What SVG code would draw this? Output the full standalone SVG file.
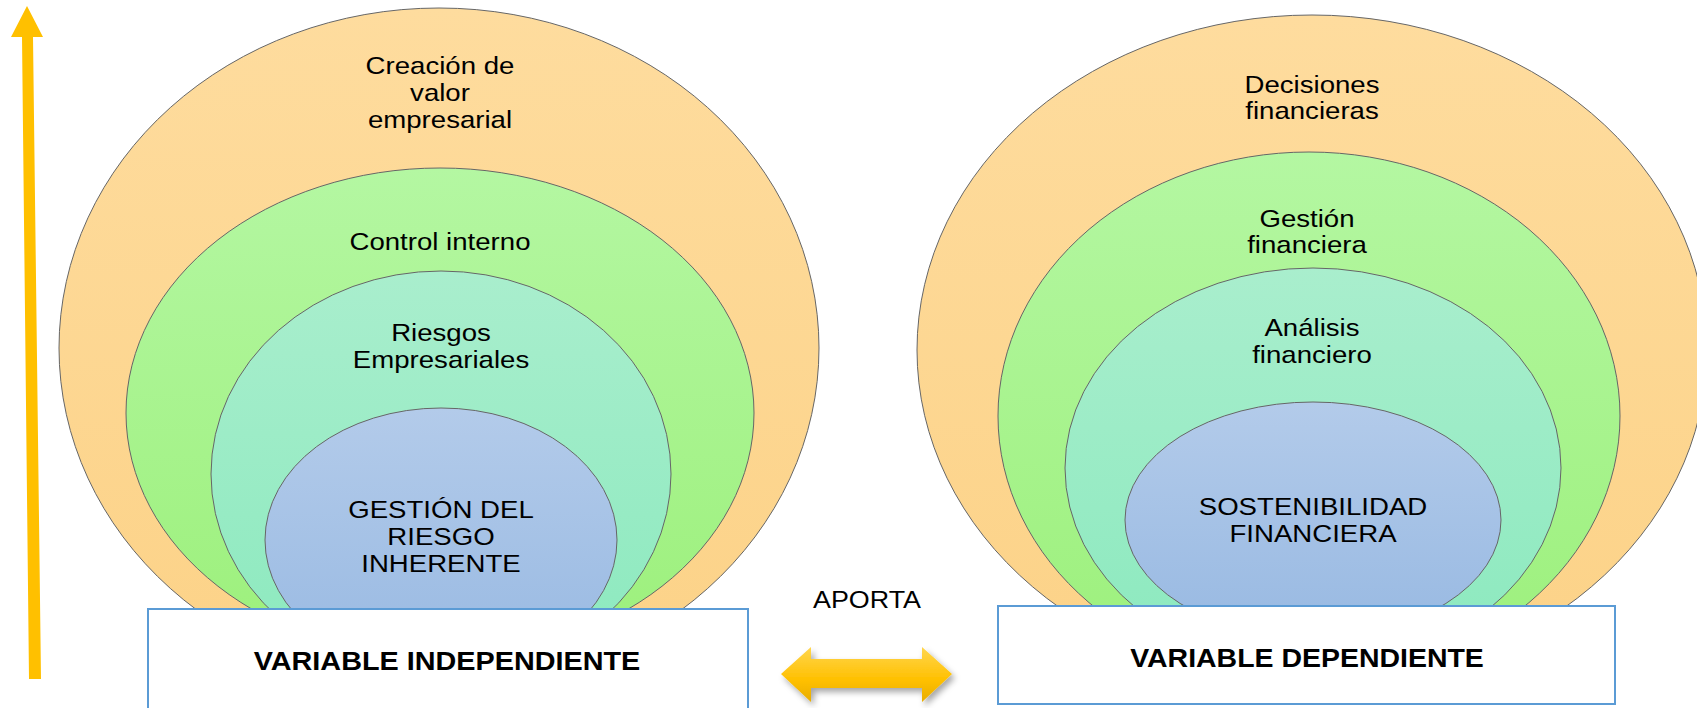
<svg xmlns="http://www.w3.org/2000/svg" width="1697" height="708" viewBox="0 0 1697 708">
<defs>
<linearGradient id="gOr" x1="0" y1="0" x2="0" y2="1"><stop offset="0" stop-color="#FEDC9E"/><stop offset="1" stop-color="#FCD287"/></linearGradient>
<linearGradient id="gGr" x1="0" y1="0" x2="0" y2="1"><stop offset="0" stop-color="#B4F7A2"/><stop offset="1" stop-color="#9CF07B"/></linearGradient>
<linearGradient id="gTe" x1="0" y1="0" x2="0" y2="1"><stop offset="0" stop-color="#A9EECD"/><stop offset="1" stop-color="#8BE9BE"/></linearGradient>
<linearGradient id="gBl" x1="0" y1="0" x2="0" y2="1"><stop offset="0" stop-color="#B3CBEA"/><stop offset="1" stop-color="#98B9E2"/></linearGradient>
<linearGradient id="gAr" x1="0" y1="0" x2="0" y2="1"><stop offset="0" stop-color="#FFD64F"/><stop offset="0.6" stop-color="#FFC000"/><stop offset="1" stop-color="#E8AD00"/></linearGradient>
<filter id="sh" x="-20%" y="-40%" width="140%" height="180%"><feDropShadow dx="3" dy="4" stdDeviation="3" flood-color="#000" flood-opacity="0.35"/></filter>
</defs>
<style>
.e{stroke:#666;stroke-width:1}
.or{fill:url(#gOr)}.gr{fill:url(#gGr)}.te{fill:url(#gTe)}.bl{fill:url(#gBl)}
.t{font-family:"Liberation Sans",Arial,sans-serif;font-size:24px;fill:#000;text-anchor:middle}
.b{font-family:"Liberation Sans",Arial,sans-serif;font-size:26px;font-weight:bold;fill:#000;text-anchor:middle}
.box{fill:#fff;stroke:#5B9BD5;stroke-width:2}
</style>
<rect width="1697" height="708" fill="#fff"/>
<g id="left-creacion-valor">
<ellipse class="e or" cx="439" cy="348" rx="380" ry="340"/>
<text class="t" transform="translate(440,74) scale(1.15,1)"><tspan x="0" y="0">Creación de</tspan><tspan x="0" y="27">valor</tspan><tspan x="0" y="54">empresarial</tspan></text>
</g>
<g id="left-control-interno">
<ellipse class="e gr" cx="440" cy="413" rx="314" ry="245"/>
<text class="t" transform="translate(440,250) scale(1.15,1)">Control interno</text>
</g>
<g id="left-riesgos">
<ellipse class="e te" cx="441" cy="474" rx="230" ry="203"/>
<text class="t" transform="translate(441,341) scale(1.15,1)"><tspan x="0" y="0">Riesgos</tspan><tspan x="0" y="27">Empresariales</tspan></text>
</g>
<g id="left-gestion-riesgo">
<ellipse class="e bl" cx="441" cy="540" rx="176" ry="132"/>
<text class="t" transform="translate(441,518) scale(1.15,1)"><tspan x="0" y="0">GESTIÓN DEL</tspan><tspan x="0" y="27">RIESGO</tspan><tspan x="0" y="54">INHERENTE</tspan></text>
</g>
<g id="left-box">
<rect class="box" x="148" y="609" width="600" height="110"/>
<text class="b" transform="translate(447,670) scale(1.108,1)">VARIABLE INDEPENDIENTE</text>
</g>
<g id="right-decisiones">
<ellipse class="e or" cx="1312" cy="350" rx="395" ry="335"/>
<text class="t" transform="translate(1312,93) scale(1.15,1)"><tspan x="0" y="0">Decisiones</tspan><tspan x="0" y="26">financieras</tspan></text>
</g>
<g id="right-gestion-financiera">
<ellipse class="e gr" cx="1309" cy="416" rx="311" ry="264"/>
<text class="t" transform="translate(1307,227) scale(1.15,1)"><tspan x="0" y="0">Gestión</tspan><tspan x="0" y="26">financiera</tspan></text>
</g>
<g id="right-analisis">
<ellipse class="e te" cx="1313" cy="468" rx="248" ry="200"/>
<text class="t" transform="translate(1312,336) scale(1.15,1)"><tspan x="0" y="0">Análisis</tspan><tspan x="0" y="27">financiero</tspan></text>
</g>
<g id="right-sostenibilidad">
<ellipse class="e bl" cx="1313" cy="520" rx="188" ry="118"/>
<text class="t" transform="translate(1313,515) scale(1.15,1)"><tspan x="0" y="0">SOSTENIBILIDAD</tspan><tspan x="0" y="27">FINANCIERA</tspan></text>
</g>
<g id="right-box">
<rect class="box" x="998" y="606" width="617" height="98"/>
<text class="b" transform="translate(1307,667) scale(1.095,1)">VARIABLE DEPENDIENTE</text>
</g>
<g id="connectors">
<polygon id="up-arrow" fill="#FFC000" points="27,6 43,37 33,37 41,679 29,679 22,37 11,37"/>
<g id="aporta">
<polygon filter="url(#sh)" fill="url(#gAr)" points="781,674 811,647 811,659 922,659 922,647 952,674 922,702 922,688 811,688 811,702"/>
<text class="t" transform="translate(867,608) scale(1.12,1)">APORTA</text>
</g>
</g>
</svg>
